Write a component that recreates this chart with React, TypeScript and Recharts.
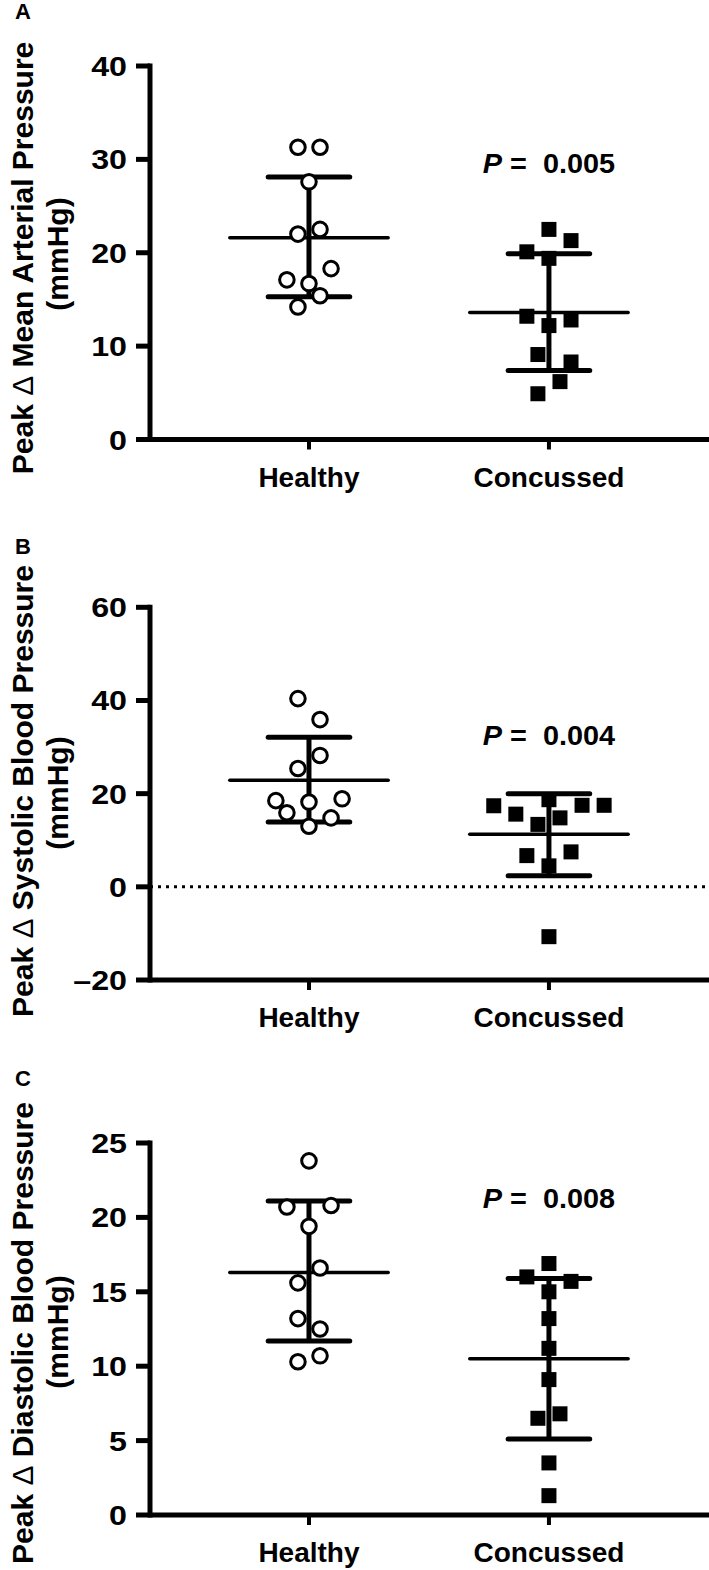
import { ScatterChart, Scatter, XAxis, YAxis, ReferenceLine, ReferenceDot } from "recharts"

const CATEGORIES = ["Healthy", "Concussed"]
const JITTER = 0.046 // one jitter step, in category units

// Panel A: peak change in mean arterial pressure
const healthyA = [31.3, 31.3, 27.6, 22.0, 22.5, 18.3, 17.1, 16.7, 15.4, 14.2]
const healthyASlot = [-1, 1, 0, -1, 1, 2, -2, 0, 1, -1]
const concussedA = [22.5, 21.3, 20.1, 19.4, 13.2, 12.8, 12.2, 9.1, 8.3, 6.2, 4.9]
const concussedASlot = [0, 2, -2, 0, -2, 2, 0, -1, 2, 1, -1]
const statsA = { healthy: [15.3, 21.6, 28.1], concussed: [7.4, 13.6, 19.9] }

// Panel B: peak change in systolic blood pressure
const healthyB = [40.4, 35.9, 28.2, 25.4, 18.5, 18.2, 18.9, 15.9, 14.8, 13.0]
const healthyBSlot = [-1, 1, 1, -1, -3, 0, 3, -2, 2, 0]
const concussedB = [17.4, 15.6, 13.4, 18.7, 14.8, 17.5, 17.5, 6.7, 7.5, 4.5, -10.7]
const concussedBSlot = [-5, -3, -1, 0, 1, 3, 5, -2, 2, 0, 0]
const statsB = { healthy: [13.9, 22.9, 32.1], concussed: [2.4, 11.3, 20.0] }

// Panel C: peak change in diastolic blood pressure
const healthyC = [23.8, 20.7, 20.8, 19.4, 16.6, 15.6, 13.2, 12.5, 10.3, 10.7]
const healthyCSlot = [0, -2, 2, 0, 1, -1, -1, 1, -1, 1]
const concussedC = [16.9, 16.0, 15.7, 15.0, 13.2, 11.2, 9.1, 6.5, 6.8, 3.5, 1.3]
const concussedCSlot = [0, -2, 2, 0, 0, 0, 0, -1, 1, 0, 0]
const statsC = { healthy: [11.7, 16.3, 21.1], concussed: [5.1, 10.5, 15.9] }

const ticksA = [0, 10, 20, 30, 40]
const ticksB = [-20, 0, 20, 40, 60]
const ticksC = [0, 5, 10, 15, 20, 25]

const FONT = "'Liberation Sans', Arial, Helvetica, sans-serif"

const toPoints = (vals: number[], slots: number[], group: number) =>
  vals.map((v, i) => ({ x: group + slots[i] * JITTER, y: v }))

function YTick({ x, y, payload }: any) {
  const v = payload.value as number
  const label = v < 0 ? `\u2013${Math.abs(v)}` : `${v}`
  return (
    <g transform={`translate(${x},${y}) scale(1.15,1)`}>
      <text x={0} y={0} dy={10} textAnchor="end" fontFamily={FONT} fontWeight="bold" fontSize={28} fill="#000">
        {label}
      </text>
    </g>
  )
}

function XTick({ x, y, payload }: any) {
  return (
    <text x={x} y={y} dy={37} textAnchor="middle" fontFamily={FONT} fontWeight="bold" fontSize={28} fill="#000">
      {CATEGORIES[payload.value - 1]}
    </text>
  )
}

const circle = (p: any) => <circle cx={p.cx} cy={p.cy} r={7.3} fill="#fff" stroke="#000" strokeWidth={3} />
const square = (p: any) => <rect x={p.cx - 7.5} y={p.cy - 7.5} width={15} height={15} fill="#000" />

interface PanelProps {
  height: number
  top: number
  bottom: number
  domain: [number, number]
  ticks: number[]
  healthy: { x: number; y: number }[]
  concussed: { x: number; y: number }[]
  stats: { healthy: number[]; concussed: number[] }
  pText: string
  pY: number
  letter: string
  letterY: number
  title: string
  titleY: number
  unitY: number
  zeroLine?: boolean
}

function Panel(props: PanelProps) {
  const { height, top, bottom, domain, ticks, healthy, concussed, stats, pText, pY, letter, letterY, title, titleY, unitY, zeroLine } = props
  const [lo1, m1, hi1] = stats.healthy
  const [lo2, m2, hi2] = stats.concussed
  return (
    <div style={{ position: "relative", width: 709, height }}>
      <ScatterChart width={709} height={height} margin={{ top, right: 0, bottom: 0, left: 0 }}>
        <XAxis
          type="number"
          dataKey="x"
          domain={[0.3375, 2.667]}
          ticks={[1, 2]}
          allowDataOverflow
          height={bottom}
          tickSize={10}
          tickMargin={0}
          axisLine={{ stroke: "#000", strokeWidth: 5 }}
          tickLine={{ stroke: "#000", strokeWidth: 4 }}
          tick={(p: any) => <XTick {...p} />}
        />
        <YAxis
          type="number"
          dataKey="y"
          domain={domain}
          ticks={ticks}
          allowDataOverflow
          width={150}
          tickSize={14}
          tickMargin={9}
          axisLine={{ stroke: "#000", strokeWidth: 5, strokeLinecap: "square" }}
          tickLine={{ stroke: "#000", strokeWidth: 5 }}
          tick={(p: any) => <YTick {...p} />}
        />
        {zeroLine && <ReferenceLine y={0} stroke="#000" strokeWidth={3} strokeDasharray="3 5" />}
        <ReferenceLine segment={[{ x: 1, y: lo1 }, { x: 1, y: hi1 }]} stroke="#000" strokeWidth={5} />
        <ReferenceLine segment={[{ x: 0.67, y: m1 }, { x: 1.33, y: m1 }]} stroke="#000" strokeWidth={3.5} strokeLinecap="round" />
        <ReferenceLine segment={[{ x: 0.83, y: hi1 }, { x: 1.17, y: hi1 }]} stroke="#000" strokeWidth={5} strokeLinecap="round" />
        <ReferenceLine segment={[{ x: 0.83, y: lo1 }, { x: 1.17, y: lo1 }]} stroke="#000" strokeWidth={5} strokeLinecap="round" />
        <ReferenceLine segment={[{ x: 2, y: lo2 }, { x: 2, y: hi2 }]} stroke="#000" strokeWidth={5} />
        <ReferenceLine segment={[{ x: 1.67, y: m2 }, { x: 2.33, y: m2 }]} stroke="#000" strokeWidth={3.5} strokeLinecap="round" />
        <ReferenceLine segment={[{ x: 1.83, y: hi2 }, { x: 2.17, y: hi2 }]} stroke="#000" strokeWidth={5} strokeLinecap="round" />
        <ReferenceLine segment={[{ x: 1.83, y: lo2 }, { x: 2.17, y: lo2 }]} stroke="#000" strokeWidth={5} strokeLinecap="round" />
        <Scatter data={healthy} shape={circle} isAnimationActive={false} />
        <Scatter data={concussed} shape={square} isAnimationActive={false} />
        <ReferenceDot
          x={2}
          y={pY}
          r={0}
          shape={(p: any) => (
            <g transform={`translate(${p.cx},${p.cy}) scale(1.03,1)`}>
              <text x={0} y={0} textAnchor="middle" fontFamily={FONT} fontWeight="bold" fontSize={28} fill="#000" style={{ whiteSpace: "pre" }}>
                <tspan fontStyle="italic">P</tspan>
                <tspan>{` =  ${pText}`}</tspan>
              </text>
            </g>
          )}
        />
      </ScatterChart>
      <svg width={709} height={height} style={{ position: "absolute", left: 0, top: 0, pointerEvents: "none" }}>
        <text x={15} y={letterY} fontFamily={FONT} fontWeight="bold" fontSize={22} fill="#000">
          {letter}
        </text>
        <text transform={`translate(33,${titleY}) rotate(-90)`} textAnchor="middle" fontFamily={FONT} fontWeight="bold" fontSize={30} fill="#000" style={{ whiteSpace: "pre" }}>
          {"Peak "}
          <tspan fontWeight="normal">{"\u0394"}</tspan>
          {` ${title}`}
        </text>
        <text transform={`translate(68,${unitY}) rotate(-90)`} textAnchor="middle" fontFamily={FONT} fontWeight="bold" fontSize={30} fill="#000">
          (mmHg)
        </text>
      </svg>
    </div>
  )
}

export default function App() {
  return (
    <div style={{ position: "absolute", left: 0, top: 0, width: 709, height: 1570, background: "#fff" }}>
      <Panel
        height={520}
        top={66}
        bottom={80.5}
        domain={[0, 40]}
        ticks={ticksA}
        healthy={toPoints(healthyA, healthyASlot, 1)}
        concussed={toPoints(concussedA, concussedASlot, 2)}
        stats={statsA}
        pText="0.005"
        pY={28.5}
        letter="A"
        letterY={19}
        title="Mean Arterial Pressure"
        titleY={258}
        unitY={254}
      />
      <Panel
        height={520}
        top={87.3}
        bottom={60}
        domain={[-20, 60]}
        ticks={ticksB}
        healthy={toPoints(healthyB, healthyBSlot, 1)}
        concussed={toPoints(concussedB, concussedBSlot, 2)}
        stats={statsB}
        pText="0.004"
        pY={30.4}
        letter="B"
        letterY={34}
        title="Systolic Blood Pressure"
        titleY={271}
        unitY={273}
        zeroLine
      />
      <Panel
        height={530}
        top={103}
        bottom={55}
        domain={[0, 25]}
        ticks={ticksC}
        healthy={toPoints(healthyC, healthyCSlot, 1)}
        concussed={toPoints(concussedC, concussedCSlot, 2)}
        stats={statsC}
        pText="0.008"
        pY={20.6}
        letter="C"
        letterY={46}
        title="Diastolic Blood Pressure"
        titleY={293}
        unitY={292}
      />
    </div>
  )
}
